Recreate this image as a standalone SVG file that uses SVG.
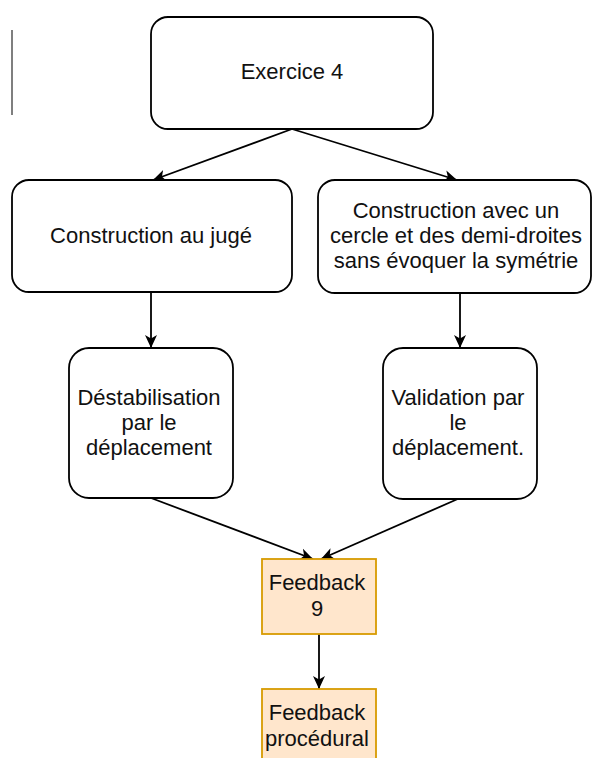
<svg xmlns="http://www.w3.org/2000/svg" width="592" height="758" viewBox="0 0 592 758">
<defs>
<style>
.box{fill:#ffffff;stroke:#000000;stroke-width:1.8}
.fb{fill:#ffe6cc;stroke:#d79b00;stroke-width:1.8}
.lbl{font-family:"Liberation Sans",Arial,Helvetica,sans-serif;font-size:22px;fill:#111111;text-anchor:middle}
.edge{fill:none;stroke:#000000;stroke-width:1.8;marker-end:url(#arrow)}
</style>
<marker id="arrow" markerUnits="userSpaceOnUse" markerWidth="14" markerHeight="14" viewBox="0 0 14 14" refX="13" refY="7" orient="auto">
<path d="M0,1 L13,7 L0,13 L3.5,7 z" fill="#000000"/>
</marker>
</defs>
<rect width="592" height="758" fill="#ffffff"/>
<line x1="12" y1="30" x2="12" y2="115" stroke="#555555" stroke-width="1.5"/>
<g id="edges">
<line class="edge" x1="292" y1="129" x2="153" y2="180"/>
<line class="edge" x1="292" y1="129" x2="457" y2="180"/>
<line class="edge" x1="151" y1="293" x2="151" y2="348"/>
<line class="edge" x1="460" y1="293" x2="460" y2="348"/>
<line class="edge" x1="151" y1="498" x2="313" y2="559"/>
<line class="edge" x1="460" y1="498" x2="321" y2="559"/>
<line class="edge" x1="319" y1="634" x2="319" y2="689"/>
</g>
<g id="exercice4">
<rect class="box" x="151" y="17" width="282" height="112" rx="17" ry="17"/>
<text class="lbl" x="292" y="79">Exercice 4</text>
</g>
<g id="construction-juge">
<rect class="box" x="12" y="180" width="280" height="112" rx="17" ry="17"/>
<text class="lbl" x="151" y="243">Construction au jugé</text>
</g>
<g id="construction-cercle">
<rect class="box" x="318" y="180" width="273" height="113" rx="17" ry="17"/>
<text class="lbl" x="456" y="218">Construction avec un</text>
<text class="lbl" x="456" y="243">cercle et des demi-droites</text>
<text class="lbl" x="456" y="268">sans évoquer la symétrie</text>
</g>
<g id="destabilisation">
<rect class="box" x="69" y="348" width="164" height="150" rx="20" ry="20"/>
<text class="lbl" x="149" y="405">Déstabilisation</text>
<text class="lbl" x="149" y="430">par le</text>
<text class="lbl" x="149" y="455">déplacement</text>
</g>
<g id="validation">
<rect class="box" x="383" y="348" width="154" height="151" rx="20" ry="20"/>
<text class="lbl" x="458" y="405">Validation par</text>
<text class="lbl" x="458" y="430">le</text>
<text class="lbl" x="458" y="455">déplacement.</text>
</g>
<g id="feedback9">
<rect class="fb" x="262" y="559" width="114" height="75"/>
<text class="lbl" x="317" y="590">Feedback</text>
<text class="lbl" x="317" y="616">9</text>
</g>
<g id="feedback-procedural">
<rect class="fb" x="262" y="689" width="114" height="90"/>
<text class="lbl" x="317" y="720">Feedback</text>
<text class="lbl" x="317" y="746">procédural</text>
</g>
</svg>
